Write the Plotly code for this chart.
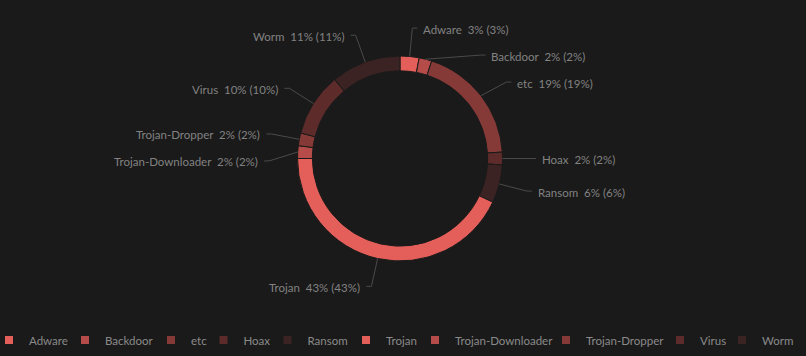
import math
import plotly.graph_objects as go

# ---- data ----
labels = ["Adware", "Backdoor", "etc", "Hoax", "Ransom", "Trojan",
          "Trojan-Downloader", "Trojan-Dropper", "Virus", "Worm"]
values = [3, 2, 19, 2, 6, 43, 2, 2, 10, 11]

# ---- styles ----
palette = ["#e45f59", "#b54c49", "#853a38", "#5c2b2a", "#3a2322"]
legend_widths = [31, 41, 7.5, 19, 33.5, 24, 86, 69, 17, 30]
BG = "#1a1a1a"
TEXT = "#828282"
LEG_TEXT = "#8a8a8a"
LINE = "#4a4a4a"
FONT = "Lato"
FSIZE = 11.5

W, H = 806, 356
B = 30                     # bottom margin holding the legend
PH = H - B                 # plot-area height
CX, CY = 400, 158.5
R_OUT = 102.5
HOLE = 0.855
R_ELBOW = 131
SEG2 = 5
GAP = 4
MIN_SEP = 27

colors = [palette[i % len(palette)] for i in range(len(labels))]
total = sum(values)
pcts = [round(v / total * 100) for v in values]
texts = [f"{l}\u00a0\u00a0{p}% ({p}%)" for l, p in zip(labels, pcts)]


def px(x):
    return x / W


def py(y):
    return (PH - y) / PH


fig = go.Figure()
fig.add_trace(go.Pie(
    labels=labels, values=values, hole=HOLE, sort=False,
    direction="clockwise", rotation=0,
    marker=dict(colors=colors, line=dict(color=BG, width=1)),
    textinfo="none", showlegend=False, hoverinfo="label+percent",
    domain=dict(x=[px(CX - R_OUT), px(CX + R_OUT)],
                y=[py(CY + R_OUT), py(CY - R_OUT)]),
))

# ---- outside labels with leader lines, derived from the data angles ----
items = []
cum = 0
for i, v in enumerate(values):
    mid = (cum + v / 2) / total * 2 * math.pi
    cum += v
    s, c = math.sin(mid), math.cos(mid)
    ax, ay = CX + R_OUT * s, CY - R_OUT * c
    ey = CY - R_ELBOW * c
    side = 1 if s >= 0 else -1
    items.append(dict(i=i, ax=ax, ay=ay, ey=ey, side=side))

for side in (1, -1):
    grp = sorted([it for it in items if it["side"] == side], key=lambda d: d["ey"])
    for k in range(1, len(grp)):
        if grp[k]["ey"] < grp[k - 1]["ey"] + MIN_SEP:
            grp[k]["ey"] = grp[k - 1]["ey"] + MIN_SEP

shapes = []
annotations = []
for it in items:
    dy = it["ey"] - CY
    dx = math.sqrt(max(R_ELBOW ** 2 - dy ** 2, 4.0))
    ex = CX + it["side"] * dx
    x2 = ex + it["side"] * SEG2
    path = (f"M {px(it['ax'])},{py(it['ay'])} L {px(ex)},{py(it['ey'])} "
            f"L {px(x2)},{py(it['ey'])}")
    shapes.append(dict(type="path", xref="paper", yref="paper", path=path,
                       line=dict(color=LINE, width=1)))
    annotations.append(dict(
        x=px(x2 + it["side"] * GAP), y=py(it["ey"] + 1),
        xref="paper", yref="paper", showarrow=False,
        xanchor="left" if it["side"] > 0 else "right", yanchor="middle",
        text=texts[it["i"]], font=dict(size=FSIZE, color=TEXT, family=FONT),
    ))

# ---- legend entries ----
for l, c, lw in zip(labels, colors, legend_widths):
    fig.add_trace(go.Scatter(
        x=[None], y=[None], mode="markers", name=l,
        marker=dict(symbol="square", size=8, color=c),
        legendwidth=lw, hoverinfo="skip", showlegend=True,
    ))

fig.update_layout(
    width=W, height=H,
    margin=dict(l=0, r=0, t=0, b=B, autoexpand=False),
    paper_bgcolor=BG, plot_bgcolor=BG,
    font=dict(family=FONT, size=FSIZE, color=TEXT),
    xaxis=dict(visible=False), yaxis=dict(visible=False),
    shapes=shapes, annotations=annotations,
    legend=dict(orientation="h", x=-11 / W, xanchor="left", y=py(340),
                yanchor="middle", bgcolor="rgba(0,0,0,0)", itemwidth=30,
                font=dict(size=FSIZE, color=LEG_TEXT, family=FONT),
                traceorder="normal"),
)

fig.write_html("out.html")
